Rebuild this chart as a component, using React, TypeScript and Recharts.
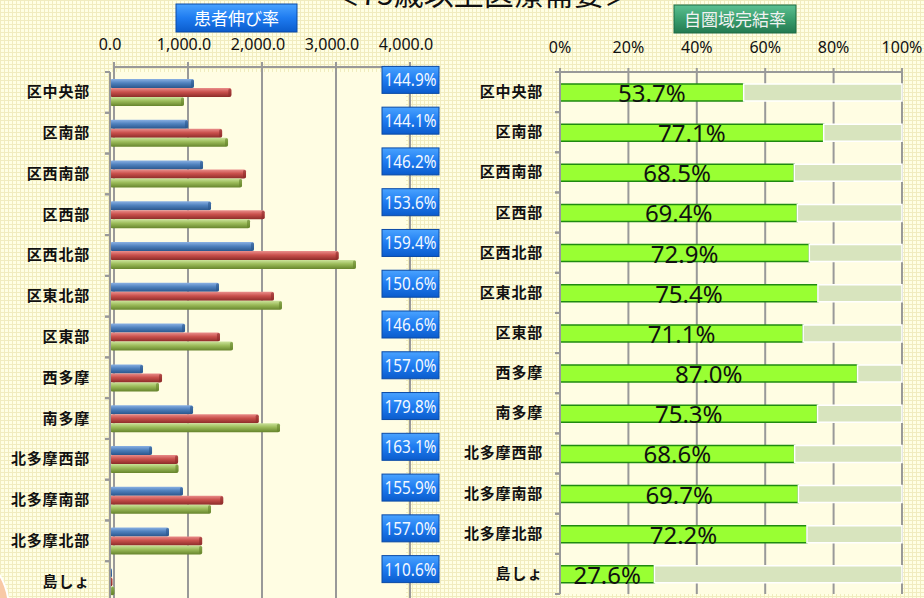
import React from 'react';
import { BarChart, Bar, XAxis, YAxis, CartesianGrid, LabelList } from 'recharts';

const categories = [
  '区中央部', '区南部', '区西南部', '区西部', '区西北部', '区東北部', '区東部',
  '西多摩', '南多摩', '北多摩西部', '北多摩南部', '北多摩北部', '島しょ',
];
// blue / red / green bars of the left panel
const currentPatients = [1135, 1054, 1257, 1365, 1946, 1473, 1014, 446, 1122, 568, 986, 797, 27];
const futurePatients = [1640, 1515, 1838, 2090, 3090, 2216, 1486, 703, 2010, 920, 1530, 1245, 32];
const supplyLevel = [1000, 1595, 1784, 1892, 3324, 2324, 1662, 662, 2297, 925, 1365, 1245, 58];
const growthLabels = [
  '144.9%', '144.1%', '146.2%', '153.6%', '159.4%', '150.6%', '146.6%',
  '157.0%', '179.8%', '163.1%', '155.9%', '157.0%', '110.6%',
];
const completionRate = [53.7, 77.1, 68.5, 69.4, 72.9, 75.4, 71.1, 87.0, 75.3, 68.6, 69.7, 72.2, 27.6];
const leftTicks = [0, 1000, 2000, 3000, 4000];
const rightTicks = [0, 0.2, 0.4, 0.6, 0.8, 1];

const leftRows = categories.map((name, i) => ({
  name,
  current: currentPatients[i],
  future: futurePatients[i],
  supply: supplyLevel[i],
}));
const rightRows = categories.map((name, i) => ({
  name,
  done: completionRate[i] / 100,
  rest: 1 - completionRate[i] / 100,
}));

const JP = '"Noto Sans CJK JP", "Noto Sans", sans-serif';
const NUM = '"Noto Sans", "Noto Sans CJK JP", sans-serif';
const LEFT_BAND = (602 - 72) / 13;
const RIGHT_BAND = (594 - 72) / 13;

const CatTick = (props: any) => {
  const { x, y, payload, margin, band } = props;
  const ax = x + margin;
  return (
    <g>
      <text x={x} y={y + 5} textAnchor="end" fontFamily={JP} fontSize={15} fontWeight="bold" fill="#111" letterSpacing={0.8}>
        {payload.value}
      </text>
      <line x1={ax - 5} x2={ax} y1={y - band / 2} y2={y - band / 2} stroke="#999" strokeWidth={2} />
      <line x1={ax - 5} x2={ax} y1={y + band / 2} y2={y + band / 2} stroke="#999" strokeWidth={2} />
    </g>
  );
};

const GrowthTick = (props: any) => {
  const { x, y, index } = props;
  const cx = x + 4;
  const cy = y - 13;
  return (
    <g>
      <rect x={cx - 28} y={cy - 13} width={57} height={27} fill="url(#boxBlue)" stroke="#0a4aa6" strokeWidth={1} />
      <text x={cx + 0.5} y={cy + 7} textAnchor="middle" fontFamily={NUM} fontSize={18} fill="#f2f8ff"
        textLength={52} lengthAdjust="spacingAndGlyphs">
        {growthLabels[index]}
      </text>
    </g>
  );
};

const Bar3D = (props: any) => {
  const { x, y, width, height, grad, edge } = props;
  if (!width || width <= 0) return null;
  return (
    <g>
      <rect x={x} y={y} width={width} height={height} rx={2} fill={`url(#${grad})`} />
      <rect x={x + width - 3} y={y + 0.5} width={3} height={height - 1} rx={1.5} fill={edge} opacity={0.6} />
    </g>
  );
};

const RateLabel = (props: any) => {
  const { x, y, width, height, index } = props;
  return (
    <text x={x + width / 2} y={y + height + 1} textAnchor="middle" fontFamily={NUM} fontSize={24} fill="#111">
      {completionRate[index].toFixed(1)}%
    </text>
  );
};

const fmtThousands = (v: number) =>
  v.toLocaleString('en-US', { minimumFractionDigits: 1, maximumFractionDigits: 1 });

export default function App() {
  return (
    <div
      style={{
        position: 'absolute', left: 0, top: 0, width: 924, height: 598, overflow: 'hidden',
        backgroundColor: '#FFFFE4',
        backgroundImage:
          'linear-gradient(#F1ECBF 1px, transparent 1px), linear-gradient(90deg, #F1ECBF 1px, transparent 1px)',
        backgroundSize: '4px 4px',
      }}
    >
      <svg width={0} height={0} style={{ position: 'absolute' }}>
        <defs>
          <linearGradient id="gBlue" x1="0" y1="0" x2="0" y2="1">
            <stop offset="0%" stopColor="#8AB1E4" />
            <stop offset="45%" stopColor="#4F81BD" />
            <stop offset="100%" stopColor="#2A568C" />
          </linearGradient>
          <linearGradient id="gRed" x1="0" y1="0" x2="0" y2="1">
            <stop offset="0%" stopColor="#EA8E8B" />
            <stop offset="45%" stopColor="#C9504C" />
            <stop offset="100%" stopColor="#8C2C29" />
          </linearGradient>
          <linearGradient id="gGreen" x1="0" y1="0" x2="0" y2="1">
            <stop offset="0%" stopColor="#CBE39A" />
            <stop offset="45%" stopColor="#9BBB59" />
            <stop offset="100%" stopColor="#66842C" />
          </linearGradient>
          <linearGradient id="boxBlue" x1="0" y1="0" x2="0" y2="1">
            <stop offset="0%" stopColor="#4AA3FF" />
            <stop offset="50%" stopColor="#1E7BF0" />
            <stop offset="100%" stopColor="#0B5CCC" />
          </linearGradient>
          <linearGradient id="boxGreen" x1="0" y1="0" x2="0" y2="1">
            <stop offset="0%" stopColor="#5CC092" />
            <stop offset="50%" stopColor="#3A9E6E" />
            <stop offset="100%" stopColor="#247A50" />
          </linearGradient>
        </defs>
      </svg>

      <div style={{ position: 'absolute', left: 0, top: 0 }}>
        <BarChart
          width={460}
          height={610}
          layout="vertical"
          data={leftRows}
          margin={{ top: 42, right: 52, bottom: 8, left: 10 }}
          barCategoryGap={7}
          barGap={0}
        >
          <CartesianGrid
            horizontal={false}
            fill="#FFFDE3"
            vertical={(p: any) => (
              <line key={`lv-${p.index}`} x1={p.x1 + 4} y1={p.y1 - 10} x2={p.x2 + 4} y2={p.y2} stroke="#999" strokeWidth={2} />
            )}
          />
          <XAxis
            type="number"
            orientation="top"
            domain={[0, 4000]}
            ticks={leftTicks}
            tickFormatter={fmtThousands}
            height={30}
            tickSize={0}
            tickMargin={22}
            tickLine={false}
            axisLine={{ stroke: '#999', strokeWidth: 2, transform: 'translate(4,-5)' }}
            tick={{ fontFamily: NUM, fontSize: 16, fill: '#111' }}
          />
          <YAxis
            type="category"
            dataKey="name"
            width={100}
            interval={0}
            tickSize={0}
            tickMargin={20}
            tickLine={false}
            axisLine={{ stroke: '#999', strokeWidth: 2 }}
            tick={(p: any) => <CatTick key={`lt-${p.index}`} {...p} margin={20} band={LEFT_BAND} />}
          />
          <YAxis
            yAxisId="ratio"
            orientation="right"
            type="category"
            dataKey="name"
            width={2}
            interval={0}
            tickSize={0}
            tickMargin={0}
            tickLine={false}
            axisLine={false}
            tick={(p: any) => <GrowthTick key={`gt-${p.index}`} {...p} />}
          />
          <Bar dataKey="current" isAnimationActive={false} shape={(p: any) => <Bar3D {...p} grad="gBlue" edge="#2A568C" />} />
          <Bar dataKey="future" isAnimationActive={false} shape={(p: any) => <Bar3D {...p} grad="gRed" edge="#8C2C29" />} />
          <Bar dataKey="supply" isAnimationActive={false} shape={(p: any) => <Bar3D {...p} grad="gGreen" edge="#66842C" />} />
        </BarChart>
      </div>

      <div style={{ position: 'absolute', left: 460, top: 0 }}>
        <BarChart
          width={464}
          height={598}
          layout="vertical"
          data={rightRows}
          margin={{ top: 42, right: 22, bottom: 4, left: 10 }}
          barSize={17}
        >
          <CartesianGrid horizontal={false} fill="#FFFDE3" stroke="#999" strokeWidth={2} />
          <XAxis
            type="number"
            orientation="top"
            domain={[0, 1]}
            ticks={rightTicks}
            tickFormatter={(v: number) => `${Math.round(v * 100)}%`}
            height={30}
            tickSize={4}
            tickMargin={15}
            tickLine={{ stroke: '#999', strokeWidth: 2 }}
            axisLine={{ stroke: '#999', strokeWidth: 2 }}
            tick={{ fontFamily: NUM, fontSize: 16, fill: '#111' }}
          />
          <YAxis
            type="category"
            dataKey="name"
            width={90}
            interval={0}
            tickSize={0}
            tickMargin={17}
            tickLine={false}
            axisLine={{ stroke: '#999', strokeWidth: 2 }}
            tick={(p: any) => <CatTick key={`rt-${p.index}`} {...p} margin={17} band={RIGHT_BAND} />}
          />
          <Bar dataKey="done" stackId="a" fill="#99FF33" stroke="#1F8A10" strokeWidth={1.5} isAnimationActive={false}>
            <LabelList dataKey="done" content={(p: any) => <RateLabel key={`rl-${p.index}`} {...p} />} />
          </Bar>
          <Bar dataKey="rest" stackId="a" fill="#D8E4BE" stroke="#FFFFFF" strokeWidth={1.5} isAnimationActive={false} />
        </BarChart>
      </div>

      <svg width={924} height={598} style={{ position: 'absolute', left: 0, top: 0, pointerEvents: 'none' }}>
        <circle cx={-60} cy={610} r={69} fill="#F8C9A6" stroke="#FFFFFF" strokeWidth={2} />
        <text x={482} y={5} textAnchor="middle" fontFamily={JP} fontSize={30} fill="#111">
          ＜75歳以上医療需要＞
        </text>
        <rect x={176} y={4} width={121} height={28} fill="url(#boxBlue)" stroke="#0a4aa6" />
        <text x={236.5} y={24.5} textAnchor="middle" fontFamily={JP} fontSize={17} fill="#FFFFFF">
          患者伸び率
        </text>
        <rect x={674} y={5} width={122} height={28} fill="url(#boxGreen)" stroke="#1d6a44" />
        <text x={735} y={25.5} textAnchor="middle" fontFamily={JP} fontSize={17} fill="#F2F2F2">
          自圏域完結率
        </text>
      </svg>
    </div>
  );
}
